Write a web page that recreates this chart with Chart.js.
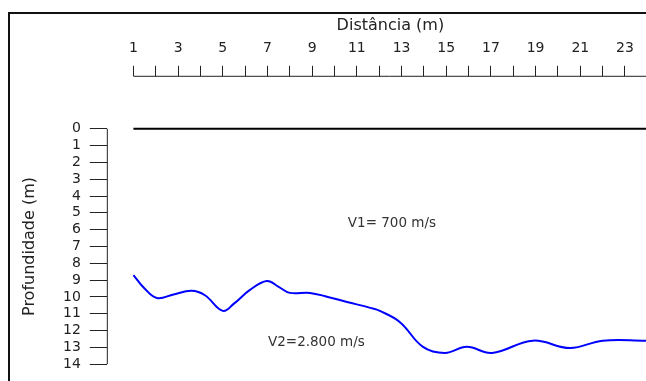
<!DOCTYPE html>
<html>
<head>
<meta charset="utf-8">
<script src="https://cdn.jsdelivr.net/npm/chart.js@4"></script>
<style>
  html, body { margin: 0; padding: 0; background: #fff; }
  #moldura {
    position: absolute; left: 8px; top: 12px; right: 0; bottom: 0;
    border-left: 2px solid #111; border-top: 2px solid #111;
  }
  #perfil { position: absolute; left: 0; top: 0; }
</style>
</head>
<body>
<div id="moldura"></div>
<canvas id="perfil" width="646" height="381"></canvas>
<script>
// refractor (V2) interface
const distancia = [1, 1.5, 2.05, 2.8, 3.6, 4.2, 5.0, 5.5, 6.2, 6.97, 7.5, 8.0, 8.9, 9.7, 10.56, 11.6, 12.03, 12.93, 13.96, 14.94, 15.92, 17.05, 18.88, 20.54, 22.0, 23.94];
const profundidade = [8.7, 9.5, 10.06, 9.85, 9.64, 9.9, 10.83, 10.4, 9.6, 9.05, 9.4, 9.76, 9.76, 10.0, 10.3, 10.65, 10.83, 11.5, 12.97, 13.33, 12.97, 13.33, 12.6, 13.04, 12.6, 12.6];

// surface line
const superficieX = [1, 24];
const superficieY = [0, 0];

const ticksDistancia = [1, 2, 3, 4, 5, 6, 7, 8, 9, 10, 11, 12, 13, 14, 15, 16, 17, 18, 19, 20, 21, 22, 23];
const ticksProfundidade = [0, 1, 2, 3, 4, 5, 6, 7, 8, 9, 10, 11, 12, 13, 14];

const rotulos = ['V1= 700 m/s', 'V2=2.800 m/s'];
const rotuloX = [12.57, 9.19];
const rotuloY = [5.65, 12.74];

const fonte = 'DejaVu Sans';

const eixosExtras = {
  id: 'eixosExtras',
  afterDraw(chart) {
    const { ctx, chartArea, scales } = chart;
    const x = scales.x, y = scales.y;
    ctx.save();
    // axis lines
    ctx.strokeStyle = '#222';
    ctx.lineWidth = 1;
    ctx.beginPath();
    ctx.moveTo(x.getPixelForValue(ticksDistancia[0]), chartArea.top + 0.5);
    ctx.lineTo(chartArea.right, chartArea.top + 0.5);
    ctx.moveTo(chartArea.left + 0.5, y.getPixelForValue(ticksProfundidade[0]));
    ctx.lineTo(chartArea.left + 0.5, y.getPixelForValue(ticksProfundidade[ticksProfundidade.length - 1]));
    ctx.stroke();

    // axis titles
    ctx.fillStyle = '#222';
    ctx.font = '16px "' + fonte + '"';
    ctx.textAlign = 'center';
    ctx.textBaseline = 'middle';
    ctx.fillText('Distância (m)', x.getPixelForValue(12.5), 26);
    ctx.save();
    ctx.translate(30, y.getPixelForValue(7));
    ctx.rotate(-Math.PI / 2);
    ctx.fillText('Profundidade (m)', 0, 0);
    ctx.restore();

    // velocity labels
    ctx.fillStyle = '#333';
    ctx.font = '13.5px "' + fonte + '"';
    rotulos.forEach((t, i) => {
      ctx.fillText(t, x.getPixelForValue(rotuloX[i]), y.getPixelForValue(rotuloY[i]));
    });
    ctx.restore();
  }
};

new Chart(document.getElementById('perfil').getContext('2d'), {
  type: 'scatter',
  data: {
    datasets: [
      {
        label: 'Superfície',
        data: superficieX.map((v, i) => ({ x: v, y: superficieY[i] })),
        showLine: true,
        borderColor: '#000',
        borderWidth: 2,
        pointRadius: 0
      },
      {
        label: 'Refrator',
        data: distancia.map((v, i) => ({ x: v, y: profundidade[i] })),
        showLine: true,
        borderColor: '#0000ff',
        borderWidth: 2,
        pointRadius: 0,
        tension: 0.4
      }
    ]
  },
  options: {
    responsive: false,
    animation: false,
    layout: { autoPadding: false, padding: { top: 31, left: 54, right: 0, bottom: 0 } },
    plugins: {
      legend: { display: false },
      tooltip: { enabled: false }
    },
    scales: {
      x: {
        type: 'linear',
        position: 'top',
        min: -0.19,
        max: 23.94,
        afterBuildTicks: (s) => { s.ticks = ticksDistancia.map(v => ({ value: v })); },
        afterFit: (s) => { s.paddingLeft = 0; s.paddingRight = 0; },
        ticks: {
          color: '#222',
          padding: 9,
          maxRotation: 0,
          autoSkip: false,
          font: { family: fonte, size: 14 },
          callback: (v) => (v % 2 === 1 ? v : '')
        },
        grid: { drawOnChartArea: false, tickLength: 10, color: '#222' },
        border: { display: false }
      },
      y: {
        type: 'linear',
        reverse: true,
        min: -3.15,
        max: 15,
        afterBuildTicks: (s) => { s.ticks = ticksProfundidade.map(v => ({ value: v })); },
        afterFit: (s) => { s.paddingTop = 0; s.paddingBottom = 0; },
        ticks: {
          color: '#222',
          padding: 9,
          autoSkip: false,
          font: { family: fonte, size: 14 }
        },
        grid: { drawOnChartArea: false, tickLength: 17, color: '#222' },
        border: { display: false }
      }
    }
  },
  plugins: [eixosExtras]
});
</script>
</body>
</html>
